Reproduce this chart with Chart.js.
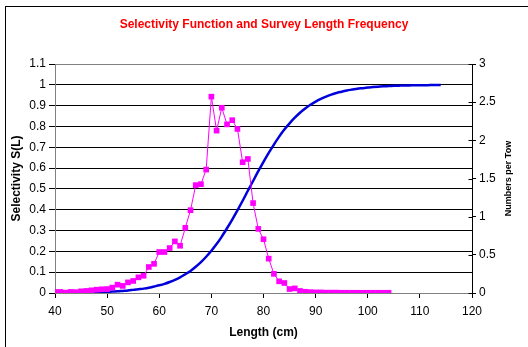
<!DOCTYPE html>
<html>
<head>
<meta charset="utf-8">
<script src="https://cdn.jsdelivr.net/npm/chart.js@4.4.1/dist/chart.umd.min.js"></script>
<style>
  html, body { margin: 0; padding: 0; background: #fff; }
  canvas { display: block; }
</style>
</head>
<body>
<canvas id="chart" width="528" height="347"></canvas>
<script>
// Survey length frequency (numbers per tow, right axis)
const freqLengths = [40,41,42,43,44,45,46,47,48,49,50,51,52,53,54,55,56,57,58,59,
  60,61,62,63,64,65,66,67,68,69,70,71,72,73,74,75,76,77,78,79,
  80,81,82,83,84,85,86,87,88,89,90,91,92,93,94,95,96,97,98,99,
  100,101,102,103,104];
const numbersPerTow = [0.014,0.014,0.005,0.014,0.011,0.022,0.027,0.035,0.044,0.049,
  0.052,0.071,0.109,0.093,0.139,0.158,0.205,0.226,0.341,0.382,
  0.537,0.537,0.589,0.676,0.619,0.854,1.085,1.413,1.426,1.617,
  2.572,2.127,2.427,2.209,2.264,2.149,1.713,1.756,1.178,0.840,
  0.704,0.450,0.251,0.153,0.131,0.052,0.060,0.027,0.016,0.011,
  0.008,0.008,0.005,0.005,0.005,0.003,0.003,0.003,0.003,0.003,
  0.003,0.003,0.003,0.003,0.003];

// Selectivity function S(L) (left axis)
const selLengths = [40,41,42,43,44,45,46,47,48,49,50,51,52,53,54,55,56,57,58,59,
  60,61,62,63,64,65,66,67,68,69,70,71,72,73,74,75,76,77,78,79,
  80,81,82,83,84,85,86,87,88,89,90,91,92,93,94,95,96,97,98,99,
  100,101,102,103,104,105,106,107,108,109,110,111,112,113,114];
const selectivity = [0.001,0.001,0.001,0.002,0.002,0.002,0.003,0.003,0.004,0.005,
  0.006,0.007,0.008,0.010,0.012,0.015,0.018,0.021,0.025,0.031,
  0.037,0.044,0.053,0.063,0.075,0.090,0.106,0.126,0.148,0.174,
  0.203,0.235,0.271,0.311,0.353,0.397,0.443,0.491,0.538,0.585,
  0.630,0.673,0.713,0.751,0.785,0.815,0.842,0.866,0.886,0.904,
  0.919,0.932,0.943,0.953,0.961,0.967,0.973,0.977,0.981,0.984,
  0.987,0.989,0.991,0.993,0.994,0.995,0.996,0.997,0.997,0.998,
  0.998,0.998,0.999,0.999,0.999];

// Axis tick values
const xTicks = [40,50,60,70,80,90,100,110,120];
const leftTicks = [0,0.1,0.2,0.3,0.4,0.5,0.6,0.7,0.8,0.9,1,1.1];
const rightTicks = [0,0.5,1,1.5,2,2.5,3];

const FONT = "'Liberation Sans', Arial, Helvetica, sans-serif";
Chart.defaults.font.family = FONT;
Chart.defaults.font.size = 12;
Chart.defaults.color = '#000';

const freqPoints = freqLengths.map((l, i) => ({ x: l, y: numbersPerTow[i] }));
const selPoints = selLengths.map((l, i) => ({ x: l, y: selectivity[i] }));

// Outer frame, inner half of the right-axis tick marks, right axis title
const decorations = {
  id: 'decorations',
  beforeDraw(chart) {
    const ctx = chart.ctx;
    ctx.save();
    ctx.fillStyle = '#fff';
    ctx.fillRect(0, 0, chart.width, chart.height);
    ctx.restore();
  },
  afterDraw(chart) {
    const ctx = chart.ctx;
    const y2 = chart.scales.y2;
    ctx.save();
    ctx.strokeStyle = '#000';
    ctx.lineWidth = 1;
    ctx.strokeRect(5.5, 6.5, 1000, 1000);
    ctx.beginPath();
    const ax = Math.round(chart.chartArea.right) + 0.5;
    rightTicks.forEach(v => {
      const py = Math.round(y2.getPixelForValue(v)) + 0.5;
      ctx.moveTo(ax - 4, py);
      ctx.lineTo(ax, py);
    });
    ctx.stroke();
    ctx.translate(509, 178.5);
    ctx.rotate(-Math.PI / 2);
    ctx.font = "bold 9px " + FONT;
    ctx.fillStyle = '#000';
    ctx.textAlign = 'center';
    ctx.textBaseline = 'middle';
    ctx.fillText('Numbers per Tow', 0, 0);
    ctx.restore();
  }
};

new Chart(document.getElementById('chart'), {
  type: 'line',
  data: {
    datasets: [
      {
        label: 'Numbers per Tow',
        data: freqPoints,
        yAxisID: 'y2',
        borderColor: '#FF00FF',
        borderWidth: 1,
        backgroundColor: '#FF00FF',
        pointStyle: 'rect',
        pointRadius: 4,
        pointBorderWidth: 0,
        pointBackgroundColor: '#FF00FF',
        tension: 0
      },
      {
        label: 'Selectivity S(L)',
        data: selPoints,
        yAxisID: 'y',
        borderColor: '#0000DD',
        borderWidth: 2.5,
        pointRadius: 0,
        cubicInterpolationMode: 'monotone'
      }
    ]
  },
  options: {
    responsive: false,
    animation: false,
    layout: { padding: 0 },
    plugins: {
      legend: { display: false },
      tooltip: { enabled: false },
      title: {
        display: true,
        text: 'Selectivity Function and Survey Length Frequency',
        color: '#FF0000',
        font: { size: 12, weight: 'bold' },
        padding: { top: 17.8, bottom: 31.8 }
      }
    },
    scales: {
      x: {
        type: 'linear',
        position: 'bottom',
        min: 40,
        max: 120,
        afterBuildTicks: s => { s.ticks = xTicks.map(v => ({ value: v })); },
        afterFit: s => { s.height = 54; },
        ticks: { padding: 6, maxRotation: 0, font: { size: 12 } },
        grid: { drawOnChartArea: false, drawTicks: true, tickLength: 5, tickColor: '#000' },
        border: { color: '#808080', width: 1 },
        title: {
          display: true,
          text: 'Length (cm)',
          font: { size: 12, weight: 'bold' },
          padding: { top: 0, bottom: 6.8 }
        }
      },
      y: {
        type: 'linear',
        position: 'left',
        min: 0,
        max: 1.1,
        afterBuildTicks: s => { s.ticks = leftTicks.map(v => ({ value: v })); },
        afterFit: s => { s.width = 55; },
        ticks: { padding: 3, font: { size: 12 }, callback: v => String(v) },
        grid: {
          color: ctx => (ctx.tick && ctx.tick.value === 1.1) ? '#808080' : '#000',
          tickColor: '#000',
          tickLength: 6,
          lineWidth: 1
        },
        border: { color: '#808080', width: 1 },
        title: {
          display: true,
          text: 'Selectivity S(L)',
          font: { size: 12, weight: 'bold' },
          padding: { top: 9.3, bottom: 0 }
        }
      },
      y2: {
        type: 'linear',
        position: 'right',
        min: 0,
        max: 3,
        afterBuildTicks: s => { s.ticks = rightTicks.map(v => ({ value: v })); },
        afterFit: s => { s.width = 56; },
        ticks: { padding: 3, font: { size: 12 }, callback: v => String(v) },
        grid: { drawOnChartArea: false, tickLength: 4, tickColor: '#000' },
        border: { color: '#000', width: 1 }
      }
    }
  },
  plugins: [decorations]
});
</script>
</body>
</html>
